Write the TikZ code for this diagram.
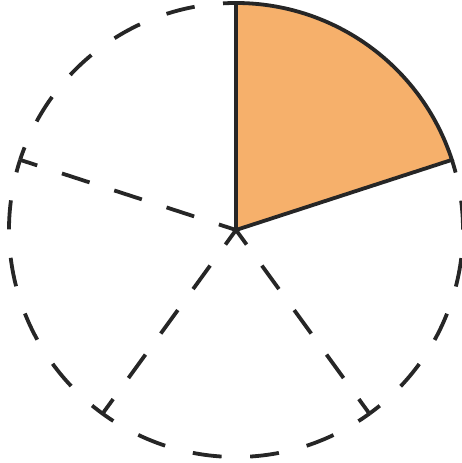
\documentclass[tikz,border=0pt]{standalone}
\begin{document}
\begin{tikzpicture}[x=1pt,y=1pt,
  edge/.style={draw=black!85,line width=3.8pt,line join=miter},
  dsharc/.style={edge,dash pattern=on 29pt off 28.6pt,dash phase=16pt},
  dshrad/.style={edge,dash pattern=on 29pt off 26pt,dash phase=11pt},
  wedge/.style={edge,fill=orange1}]
\definecolor{orange1}{RGB}{246,176,107}
\useasboundingbox (0,0) rectangle (462,463);
\coordinate (O) at (236,233);
\foreach \a in {90,162,234,306}{
  \draw[dsharc] (O) ++(\a:227) arc[start angle=\a,end angle=\a+72,radius=227];
}
\foreach \a in {162,234,306}{
  \draw[dshrad] (O) -- ++(\a:227);
}
\draw[wedge] (O) -- ++(18:227) arc[start angle=18,end angle=90,radius=227] -- cycle;
\end{tikzpicture}
\end{document}
